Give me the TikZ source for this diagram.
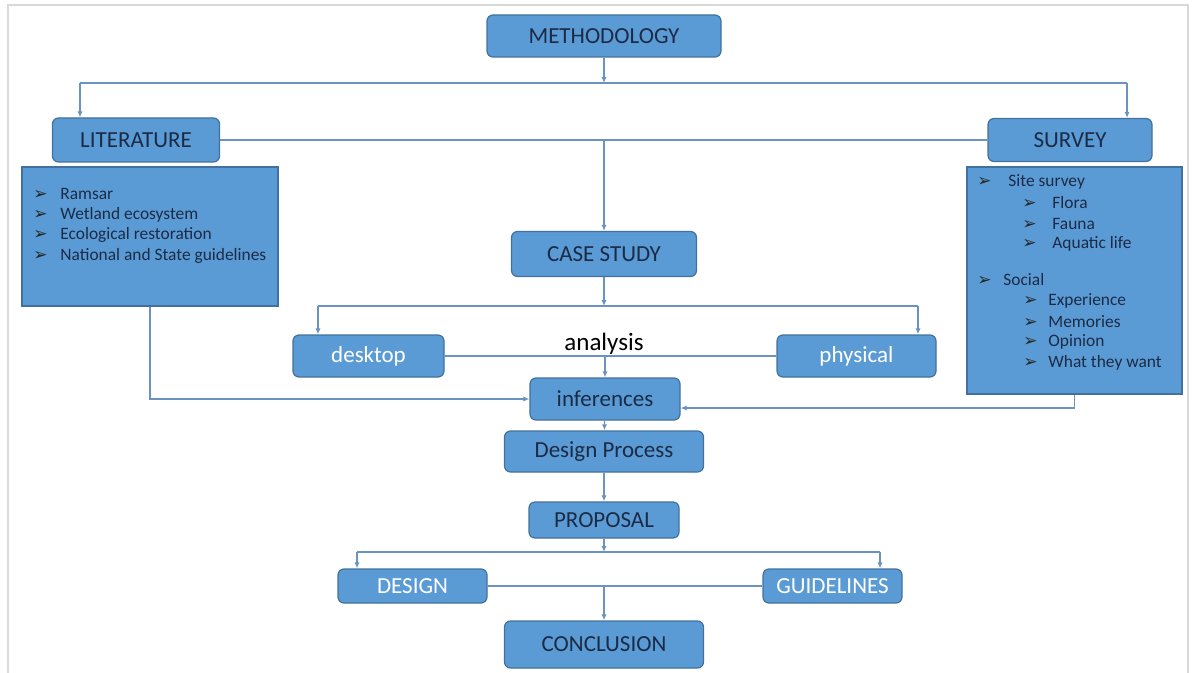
\documentclass[tikz,border=0pt]{standalone}
\usepackage{fontspec}
\setmainfont{Carlito}
\newfontfamily\symf{DejaVu Sans}
\usetikzlibrary{arrows.meta,calc}
\definecolor{boxblue}{HTML}{5B9BD5}
\definecolor{boxedge}{HTML}{41719C}
\definecolor{linkblue}{HTML}{6A93C0}
\definecolor{navy}{HTML}{1C2B45}
\newcommand{\bul}{{\symf\fontsize{8.5}{8.5}\selectfont\color{black!85}➢}}
\begin{document}
\begin{tikzpicture}[x=0.5pt,y=-0.5pt,>={Latex[length=3pt,width=2.6pt]},
    box/.style={draw=boxedge,fill=boxblue,rounded corners=3pt,line width=0.6pt,inner sep=0pt,font=\fontsize{11.5}{13}\selectfont,text=navy},
    lightbox/.style={box,text=white},
    listbox/.style={draw=boxedge,fill=boxblue,line width=0.6pt,inner sep=0pt},
    item/.style={anchor=west,inner sep=0pt,font=\fontsize{8.7}{10}\selectfont,text=navy},
    link/.style={draw=linkblue,line width=0.6pt}]
    \useasboundingbox(0,0)rectangle(1192,673);
    \draw[black!15,line width=1pt](8,673)--(8,5)--(1188,5)--(1188,673);
    % boxes
    \node[box,minimum width=117pt,minimum height=21pt](meth)at(604,36){METHODOLOGY};
    \node[box,minimum width=83.5pt,minimum height=22pt](lit)at(136,140){LITERATURE};
    \node[box,minimum width=82pt,minimum height=21.5pt](surv)at(1070,140){SURVEY};
    \node[listbox,minimum width=128pt,minimum height=69.5pt](litlist)at(150,236.5){};
    \node[listbox,minimum width=107.5pt,minimum height=113.5pt](survlist)at(1074.5,280.5){};
    \node[box,minimum width=92.5pt,minimum height=22.5pt](cs)at(604,254){CASE STUDY};
    \node[lightbox,minimum width=75.5pt,minimum height=21pt](desk)at(368.5,356){desktop};
    \node[lightbox,minimum width=79.5pt,minimum height=21pt](phys)at(856.5,356){physical};
    \node[font=\fontsize{12.5}{14}\selectfont,inner sep=0pt](ana)at(604,344){analysis};
    \node[box,minimum width=75pt,minimum height=21pt](inf)at(605,399){inferences};
    \node[box,minimum width=99.5pt,minimum height=20.5pt](dp)at(604,451.5){Design Process};
    \node[box,minimum width=75pt,minimum height=18pt](prop)at(604,520){PROPOSAL};
    \node[lightbox,minimum width=74.5pt,minimum height=17pt](des)at(412.5,586){DESIGN};
    \node[lightbox,minimum width=69.5pt,minimum height=17pt](guid)at(832.5,586){GUIDELINES};
    \node[box,minimum width=99.5pt,minimum height=23.5pt](conc)at(604,644.5){CONCLUSION};
    % list texts
    \foreach\t[count=\i]in{Ramsar,Wetland ecosystem,Ecological restoration,National and State guidelines}
        \node[item](lit\i)at(33,{194+20.7*(\i-1)}){\makebox[13.5pt][l]{\bul}\t};
    \node[item](site)at(977,182){\makebox[15.5pt][l]{\bul}Site survey};
    \foreach\t[count=\i]in{Flora,Fauna,Aquatic life}
        \node[item](site\i)at(1022,{203+20.5*(\i-1)}){\makebox[15pt][l]{\bul}\t};
    \node[item](soc)at(977,280){\makebox[13pt][l]{\bul}Social};
    \foreach\t[count=\i]in{Experience,Memories,Opinion,What they want}
        \node[item](soc\i)at(1023,{301+20.6*(\i-1)}){\makebox[12.5pt][l]{\bul}\t};
    % connectors
    \coordinate(litdrop)at(80,83);
    \coordinate(survdrop)at(1127,83);
    \draw[link,->](meth)--(meth|-litdrop);
    \draw[link](litdrop)--(survdrop);
    \draw[link,->](litdrop)--(litdrop|-lit.north);
    \draw[link,->](survdrop)--(survdrop|-surv.north);
    \draw[link](lit)--(surv);
    \draw[link,->](cs|-lit)--(cs);
    \coordinate(deskdrop)at(318,306);
    \coordinate(physdrop)at(918,306);
    \draw[link,->](cs)--(cs|-deskdrop);
    \draw[link](deskdrop)--(physdrop);
    \draw[link,->](deskdrop)--(deskdrop|-desk.north);
    \draw[link,->](physdrop)--(physdrop|-phys.north);
    \draw[link](desk)--(phys);
    \draw[link,->](inf|-desk)--(inf);
    \draw[link,->](litlist.south)|-(inf.west);
    \draw[link,->](survlist.south)|-($(inf.east)+(0,9)$);
    \draw[link,->](inf)--(dp);
    \draw[link,->](dp)--(prop);
    \coordinate(desdrop)at(357,552);
    \coordinate(guiddrop)at(880,552);
    \draw[link,->](prop)--(prop|-desdrop);
    \draw[link](desdrop)--(guiddrop);
    \draw[link,->](desdrop)--(desdrop|-des.north);
    \draw[link,->](guiddrop)--(guiddrop|-guid.north);
    \draw[link](des)--(guid);
    \draw[link,->](conc|-des)--(conc);
\end{tikzpicture}
\end{document}
